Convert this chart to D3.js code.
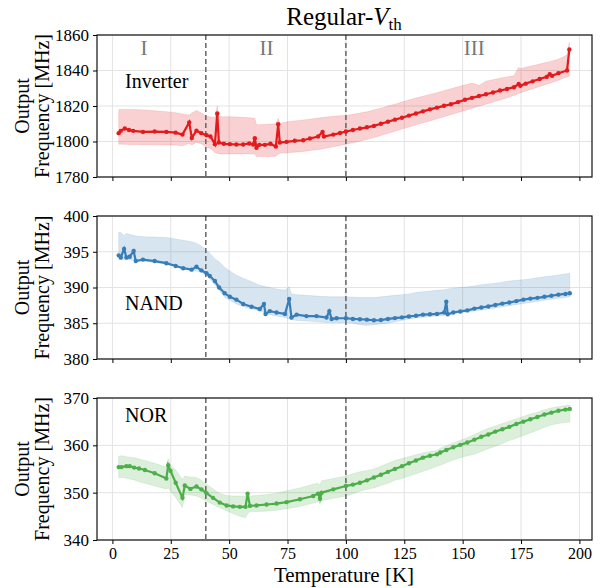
<!doctype html>
<html lang="en">
<head>
<meta charset="utf-8">
<title>Regular-Vth output frequency</title>
<script src="https://cdn.jsdelivr.net/npm/d3@7"></script>
<style>
  body { margin: 0; background: #fff; }
  svg text { font-family: "Liberation Serif", "DejaVu Serif", serif !important; fill: #000; }
</style>
</head>
<body>
<svg id="chart" width="608" height="588"></svg>
<script>
// ---- data ----
var invT = [2.7, 3.6, 5.3, 7.1, 8.9, 13.1, 18.1, 23.1, 27.1, 30, 32.9, 34, 36, 38.1, 40.3, 42, 43.9, 44.9, 45.6, 47.7, 50.3, 53.1, 56, 58.6, 60.3, 61, 61.7, 62.9, 65.3, 67.7, 70, 71, 71.7, 74.6, 78.1, 81.7, 84.6, 88.1, 90, 90.6, 94.6, 97.5,
  100, 103, 106, 109, 112, 115, 118, 121, 124, 127, 130, 133, 136, 139, 142, 145, 148, 151, 154, 157, 160, 163, 166, 169, 172, 174, 174.7, 177, 180, 183, 186, 187.3, 188.3, 191, 194.7, 195.7];
var invF = [1804.7, 1806, 1807.3, 1806.5, 1806, 1805.4, 1805.6, 1805.4, 1805, 1803.9, 1810.8, 1802, 1806.1, 1804.7, 1803.5, 1802.8, 1798.5, 1815.8, 1799.4, 1798.7, 1798.5, 1798.3, 1798.3, 1798.9, 1798.3, 1801.9, 1796.5, 1798.1, 1798.1, 1798.7, 1797.2, 1809.7, 1799.4, 1799.8, 1800.4, 1800.7, 1801.7, 1802.8, 1805.4, 1802.8, 1803.9, 1804.8,
  1805.6, 1806.5, 1807.3, 1808, 1808.8, 1810, 1811.1, 1812.3, 1813.4, 1814.6, 1815.8, 1817, 1818.1, 1819.1, 1820.1, 1821, 1822.2, 1823.5, 1824.6, 1825.6, 1826.6, 1827.6, 1828.7, 1829.6, 1830.6, 1832.4, 1831.4, 1832.6, 1833.9, 1835.2, 1836.4, 1837.9, 1837, 1838.5, 1840, 1851.9];
var invHi = [1818, 1818, 1818, 1818, 1818, 1817.8, 1817.3, 1816.8, 1816.2, 1815.5, 1815, 1816, 1817.5, 1816, 1814.2, 1813.8, 1813.5, 1820, 1814, 1814, 1814, 1813.8, 1813.6, 1813.4, 1813.2, 1813, 1809.5, 1809.5, 1809.6, 1809.8, 1810, 1813, 1810.3, 1811, 1811.6, 1812.1, 1812.6, 1813.2, 1813.5, 1813.6, 1814.2, 1814.5,
  1814.7, 1815.3, 1816, 1816.7, 1817.7, 1818.8, 1820, 1821, 1822.2, 1823.4, 1824.5, 1825.5, 1826.5, 1827.5, 1828.6, 1829.7, 1830.8, 1831.9, 1832.9, 1831.5, 1834, 1834.8, 1835.7, 1836.4, 1837, 1841.8, 1841, 1841.8, 1842.7, 1843.6, 1844.6, 1845, 1845.3, 1846.3, 1848.7, 1856];
var invLo = [1798.5, 1798.5, 1798.4, 1798.3, 1798.3, 1798.2, 1798.1, 1798, 1798, 1797.6, 1799, 1798, 1799.5, 1798.8, 1796.7, 1796, 1793.8, 1793.4, 1793, 1793, 1793, 1793, 1793, 1793, 1793, 1793, 1791.5, 1791.5, 1791.5, 1791.6, 1791.7, 1793, 1793.4, 1793.6, 1794, 1794.4, 1795, 1795.5, 1795.8, 1796, 1797, 1797.8,
  1798.5, 1799.3, 1800.2, 1801.2, 1802.2, 1803.4, 1804.6, 1805.8, 1807, 1808.2, 1809.4, 1810.5, 1811.6, 1812.8, 1814, 1815.2, 1816.3, 1817.5, 1818.7, 1819.9, 1821, 1822.2, 1823.4, 1824.6, 1826, 1827, 1827.3, 1828.5, 1829.7, 1831, 1832.3, 1832.8, 1833.3, 1834.5, 1836.5, 1836.8];

var nandT = [2.7, 3.6, 5, 6, 7.4, 9.1, 10, 13.1, 18.1, 23.1, 27.1, 30.3, 33.9, 36, 38.1, 40.3, 41.7, 43.9, 45.7, 48.1, 50.3, 53.1, 56, 59.6, 63.1, 64.9, 65.6, 67.4, 70.3, 73.9, 75.7, 76.7, 78.9, 83.1, 87.4, 91.7, 92.9, 93.9, 96,
  100, 103, 106, 109, 112, 115, 118, 121, 124, 127, 130, 133, 136, 139, 142.1, 143, 143.6, 146, 149, 152, 155, 158, 161, 164, 167, 170, 173, 176, 179, 182, 185, 188, 191, 194, 195.9];
var nandF = [394.5, 394.2, 395.4, 394.2, 394.3, 395.1, 393.7, 393.9, 393.7, 393.4, 393, 392.7, 392.5, 392.9, 392.4, 392, 391.6, 390.9, 390, 389.2, 388.7, 388.3, 387.7, 387.3, 387, 387.7, 386.3, 386.7, 386.5, 386.3, 388.4, 385.8, 386.2, 386, 386, 385.8, 386.7, 385.6, 385.7,
  385.7, 385.6, 385.56, 385.5, 385.42, 385.45, 385.6, 385.72, 385.82, 385.95, 386.05, 386.2, 386.25, 386.3, 386.5, 388, 386.25, 386.5, 386.65, 386.8, 387.05, 387.2, 387.35, 387.55, 387.75, 387.9, 388.1, 388.3, 388.45, 388.55, 388.7, 388.85, 389, 389.1, 389.2];
var nandHi = [397.7, 397.7, 397.2, 397.6, 397.4, 397.3, 397.2, 397.1, 397.05, 397, 396.8, 396.6, 396.4, 396.2, 395.8, 395.2, 394.8, 394, 393.6, 392.8, 392.3, 391.7, 391.3, 390.8, 390.3, 390.2, 390.1, 390, 389.8, 389.6, 390.1, 389.1, 389, 388.9, 388.8, 388.75, 388.7, 388.7, 388.7,
  388.7, 388.65, 388.6, 388.6, 388.6, 388.7, 388.8, 388.9, 389, 389.1, 389.3, 389.4, 389.5, 389.6, 389.7, 389.75, 389.8, 389.9, 390, 390.1, 390.2, 390.4, 390.5, 390.6, 390.75, 390.9, 391, 391.1, 391.2, 391.35, 391.5, 391.6, 391.75, 391.9, 392];
var nandLo = [393.9, 393.9, 393.9, 393.9, 393.85, 393.8, 393.8, 393.7, 393.5, 393.3, 393, 392.7, 392.4, 392.3, 392.1, 391.8, 391.2, 390.4, 389.6, 388.6, 388.2, 387.7, 387.3, 387, 386.7, 386.5, 386.3, 386.2, 386, 385.8, 385.6, 385.5, 385.4, 385.3, 385.2, 385.1, 385.1, 385.1, 385.1,
  385.1, 385, 384.8, 384.7, 384.8, 384.9, 385, 385.2, 385.4, 385.6, 385.75, 385.85, 385.95, 386, 386.1, 386.2, 386.2, 386.35, 386.5, 386.6, 386.7, 386.85, 387, 387.15, 387.3, 387.45, 387.6, 387.75, 387.9, 388.05, 388.2, 388.35, 388.5, 388.6, 388.7];

var norT = [2.7, 3.9, 6, 7.4, 9.3, 11.4, 13.9, 18.1, 23.1, 23.9, 24.9, 27.1, 30, 31, 33.4, 36, 38.1, 40.3, 43.1, 46, 48.9, 51.7, 54.6, 57, 57.9, 58.9, 61.7, 66, 70.3, 74.6, 80.3, 86, 88.1, 88.9, 89.6, 94.6,
  100, 103, 106, 109, 112, 115, 118, 121, 124, 127, 130, 133, 136, 139, 140.4, 143, 146, 149, 152, 155, 158, 161, 164, 167, 170, 173, 176, 179, 182, 185, 188, 191, 194, 195.9];
var norF = [355.4, 355.4, 355.6, 355.6, 355.3, 355.1, 354.8, 354.1, 353, 355.8, 354.6, 352.1, 348.9, 351.5, 350.8, 351.3, 350.7, 349.9, 348.9, 347.9, 347.3, 347.1, 347, 347, 349.8, 347.2, 347.3, 347.5, 347.7, 348, 348.6, 349.3, 349.8, 348.7, 350, 350.7,
  351.4, 351.7, 352.1, 352.6, 353.2, 353.8, 354.4, 355, 355.6, 356.2, 356.8, 357.4, 357.8, 358.1, 358.5, 359, 359.6, 360.1, 360.6, 361.2, 361.8, 362.3, 362.9, 363.4, 363.9, 364.5, 365, 365.5, 366, 366.5, 366.9, 367.3, 367.55, 367.7];
var norHi = [357.7, 357.8, 357.6, 357.5, 357.4, 357.1, 356.8, 356.2, 355.4, 357.2, 355.8, 354.8, 352.8, 353.5, 353.3, 353.2, 352.6, 351.8, 350.8, 349.8, 349.4, 349.3, 349.3, 349.3, 350, 349.3, 349.4, 349.6, 349.9, 350.4, 351, 351.8, 352, 351.6, 352.5, 353,
  353.5, 354, 354.4, 354.7, 355, 355.6, 356.2, 356.8, 357.2, 357.6, 358, 358.4, 358.7, 358.9, 359.4, 359.9, 360.5, 361.1, 361.6, 362.3, 363, 363.6, 364.1, 364.6, 365.1, 365.6, 366.1, 366.6, 367, 367.5, 367.9, 368.2, 368.4, 368.5];
var norLo = [353.2, 353.2, 353.1, 352.9, 352.7, 352.3, 352, 351.4, 350.8, 351, 350.3, 349, 346.8, 349.6, 349.5, 349.3, 348.8, 348.2, 347.5, 346.8, 346.2, 345.6, 345, 344.7, 345.5, 346, 346, 346.1, 346.3, 346.6, 347.1, 347.8, 348.1, 347.6, 348.3, 348.8,
  349.3, 349.7, 350.3, 350.7, 351, 351.5, 352, 352.6, 353, 353.5, 354, 354.5, 355, 355.6, 355.8, 356.3, 356.9, 357.4, 357.8, 358.1, 358.7, 359.3, 359.8, 360.4, 361, 361.5, 362.1, 362.6, 363.2, 363.8, 364.3, 364.6, 364.8, 364.9];

var xTicks = [0, 25, 50, 75, 100, 125, 150, 175, 200];
var regionLines = [40, 100];
var regionNames = ["I", "II", "III"];
var regionLabelT = [13.5, 66, 155];

var panels = [
  { name: "Inverter", T: invT, F: invF, hi: invHi, lo: invLo, color: "#e41a1c", domain: [1780, 1860], ticks: [1780, 1800, 1820, 1840, 1860], top: 35, bottom: 177, labelY: 88 },
  { name: "NAND", T: nandT, F: nandF, hi: nandHi, lo: nandLo, color: "#377eb8", domain: [380, 400], ticks: [380, 385, 390, 395, 400], top: 216, bottom: 359, labelY: 310 },
  { name: "NOR", T: norT, F: norF, hi: norHi, lo: norLo, color: "#4daf4a", domain: [340, 370], ticks: [340, 350, 360, 370], top: 398, bottom: 540, labelY: 422 }
];

// ---- drawing ----
var svg = d3.select("#chart");
var left = 97, right = 592;
var serif = "'Liberation Serif', 'DejaVu Serif', serif";
var x = d3.scaleLinear().domain([-6.6, 205.4]).range([left, right]);

panels.forEach(function(p, pi) {
  var y = d3.scaleLinear().domain(p.domain).range([p.bottom, p.top]);
  var g = svg.append("g");

  // grid
  g.selectAll(".gx").data(xTicks).enter().append("line")
    .attr("x1", function(d) { return x(d); }).attr("x2", function(d) { return x(d); })
    .attr("y1", p.top).attr("y2", p.bottom)
    .attr("stroke", "#e3e3e3").attr("stroke-width", 1);
  g.selectAll(".gy").data(p.ticks).enter().append("line")
    .attr("x1", left).attr("x2", right)
    .attr("y1", function(d) { return y(d); }).attr("y2", function(d) { return y(d); })
    .attr("stroke", "#e3e3e3").attr("stroke-width", 1);

  var idx = d3.range(p.T.length);

  // band
  g.append("path").datum(idx)
    .attr("d", d3.area()
      .x(function(i) { return x(p.T[i]); })
      .y0(function(i) { return y(p.lo[i]); })
      .y1(function(i) { return y(p.hi[i]); }))
    .attr("fill", p.color).attr("fill-opacity", 0.2)
    .attr("stroke", p.color).attr("stroke-opacity", 0.12).attr("stroke-width", 1);

  // region dividers
  g.selectAll(".rl").data(regionLines).enter().append("line")
    .attr("x1", function(d) { return x(d); }).attr("x2", function(d) { return x(d); })
    .attr("y1", p.top).attr("y2", p.bottom)
    .attr("stroke", "#666").attr("stroke-width", 1.5).attr("stroke-dasharray", "5,3");

  // mean line + markers
  g.append("path").datum(idx)
    .attr("d", d3.line()
      .x(function(i) { return x(p.T[i]); })
      .y(function(i) { return y(p.F[i]); }))
    .attr("fill", "none").attr("stroke", p.color).attr("stroke-width", 2.2);
  g.selectAll(".pt").data(idx).enter().append("circle")
    .attr("cx", function(i) { return x(p.T[i]); })
    .attr("cy", function(i) { return y(p.F[i]); })
    .attr("r", 2.2).attr("fill", p.color);

  // frame
  g.append("rect").attr("x", left).attr("y", p.top)
    .attr("width", right - left).attr("height", p.bottom - p.top)
    .attr("fill", "none").attr("stroke", "#111").attr("stroke-width", 1.2);

  // axes
  var ya = g.append("g").attr("transform", "translate(" + left + ",0)")
    .call(d3.axisLeft(y).tickValues(p.ticks).tickSize(4).tickPadding(4).tickFormat(d3.format("d")));
  ya.attr("font-family", serif);
  ya.select(".domain").remove();
  ya.selectAll("text").style("font-size", "17px");

  var xa = g.append("g").attr("transform", "translate(0," + p.bottom + ")")
    .call(d3.axisBottom(x).tickValues(xTicks).tickSize(4).tickPadding(4));
  xa.attr("font-family", serif);
  xa.select(".domain").remove();
  if (pi < panels.length - 1) xa.selectAll("text").remove();
  else xa.selectAll("text").style("font-size", "16px");

  // gate name
  g.append("text").attr("x", 125).attr("y", p.labelY)
    .style("font-size", "20px").text(p.name);

  // y label
  var cy = (p.top + p.bottom) / 2;
  var yl = g.append("text").attr("transform", "translate(33," + cy + ") rotate(-90)")
    .attr("text-anchor", "middle").style("font-size", "20px");
  yl.append("tspan").attr("x", 0).attr("dy", "-0.2em").text("Output");
  yl.append("tspan").attr("x", 0).attr("dy", "0.98em").text("Frequency [MHz]");

  // region numerals on the first panel
  if (pi === 0) {
    g.selectAll(".rn").data(regionNames).enter().append("text")
      .attr("x", function(d, i) { return x(regionLabelT[i]); })
      .attr("y", 55).attr("text-anchor", "middle")
      .style("font-size", "21px").style("fill", "#777")
      .text(function(d) { return d; });
  }
});

// title
var title = svg.append("text").attr("x", 344).attr("y", 25)
  .attr("text-anchor", "middle").style("font-size", "25px");
title.append("tspan").text("Regular-");
title.append("tspan").style("font-style", "italic").text("V");
title.append("tspan").attr("dy", "0.3em").style("font-size", "17px").text("th");

// x label
svg.append("text").attr("x", 344).attr("y", 582)
  .attr("text-anchor", "middle").style("font-size", "21px").text("Temperature [K]");
</script>
</body>
</html>
